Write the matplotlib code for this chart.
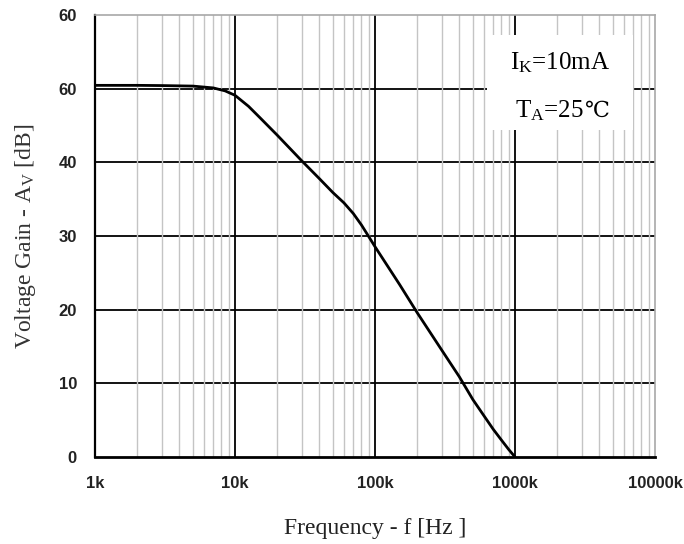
import numpy as np
import matplotlib
matplotlib.use("Agg")
import matplotlib.pyplot as plt
from matplotlib.patches import Rectangle

# frequency in Hz, gain in axis units (labels as printed on the sheet)
FREQ = [1e3, 2e3, 3e3, 5e3, 7e3, 8.5e3, 10e3, 12.5e3, 15e3, 20e3, 30e3, 40e3,
        50e3, 60e3, 70e3, 80e3, 90e3, 100e3, 150e3, 200e3, 300e3, 400e3,
        500e3, 600e3, 700e3, 800e3, 900e3, 1000e3]
GAIN = [50.45, 50.45, 50.42, 50.35, 50.1, 49.7, 49.1, 47.6, 46.1, 43.7, 40.2, 37.8,
        35.9, 34.5, 33.05, 31.5, 29.95, 28.55, 23.4, 19.6, 14.5, 10.9,
        7.8, 5.6, 3.75, 2.3, 1.04, 0.0]

YTICKS = [0, 10, 20, 30, 40, 50, 60]
YTICK_LABELS = ["0", "10", "20", "30", "40", "60", "60"]
XTICKS = [1e3, 1e4, 1e5, 1e6, 1e7]
XTICK_LABELS = ["1k", "10k", "100k", "1000k", "10000k"]

SERIF = ["Liberation Serif", "DejaVu Serif", "DejaVu Sans"]
plt.rcParams["mathtext.fontset"] = "custom"
plt.rcParams["mathtext.rm"] = "Liberation Serif"
plt.rcParams["mathtext.it"] = "Liberation Serif:italic"

fig = plt.figure(figsize=(6.84, 5.44), dpi=100)
ax = fig.add_axes([95 / 684, 1 - 457 / 544, 560 / 684, 442 / 544])
ax.set_xscale("log")
ax.set_xlim(1e3, 1e7)
ax.set_ylim(0, 60)

# grid drawn by hand so the grey minor lines sit over the horizontal ones
for y in YTICKS[1:-1]:
    ax.axhline(y, color="black", lw=1.3, zorder=1)
for dec in XTICKS[:-1]:
    for m in range(2, 10):
        ax.axvline(dec * m, color="#c4c4c4", lw=1.0, zorder=1.2)
for x in XTICKS[1:-1]:
    ax.axvline(x, color="black", lw=1.3, zorder=1.4)

# condition box
ax.add_patch(Rectangle((0.70, 0.74), 0.26, 0.215, transform=ax.transAxes,
                       facecolor="white", edgecolor="none", zorder=2))
ax.text(0.741, 0.876, r"$\mathrm{I_K}$=10mA", transform=ax.transAxes,
        ha="left", va="baseline", fontsize=18, family=SERIF, zorder=3)
t2 = ax.text(0.750, 0.769, r"$\mathrm{T_A}$=25", transform=ax.transAxes,
             ha="left", va="baseline", fontsize=18, family=SERIF, zorder=3)

ax.plot(FREQ, GAIN, color="black", lw=2.0, zorder=4, solid_capstyle="round",
        solid_joinstyle="round")

ax.set_xticks(XTICKS)
ax.set_xticklabels(XTICK_LABELS)
ax.set_xticks([], minor=True)
ax.set_yticks(YTICKS)
ax.set_yticklabels(YTICK_LABELS)
ax.tick_params(length=0)
ax.tick_params(axis="x", pad=14)
ax.tick_params(axis="y", pad=13)
for lab in ax.get_xticklabels() + ax.get_yticklabels():
    lab.set_fontfamily("Liberation Sans")
    lab.set_fontweight("bold")
    lab.set_fontsize(12)
    lab.set_color("#222222")

ax.spines["left"].set_linewidth(1.6)
ax.spines["bottom"].set_linewidth(2.0)
for s in ("top", "right"):
    ax.spines[s].set_color("#a8a8a8")
    ax.spines[s].set_linewidth(1.2)

ax.set_xlabel("Frequency - f [Hz ]", family=SERIF, fontsize=17,
              color="#222222", labelpad=19)
ax.set_ylabel(r"Voltage Gain - A$_\mathrm{V}$ [dB]", family=SERIF,
              fontsize=17, color="#333333", labelpad=15)

# the degree-Celsius sign is not in the mathtext font, so set it after the text
fig.canvas.draw()
bb = t2.get_window_extent()
base_y = ax.transAxes.transform((0.750, 0.769))[1]
ax.annotate("℃", xy=(bb.x1 + 1, base_y), xycoords="figure pixels",
            ha="left", va="baseline", fontsize=16, family=SERIF, zorder=3)

fig.savefig("out.png", dpi=100)
